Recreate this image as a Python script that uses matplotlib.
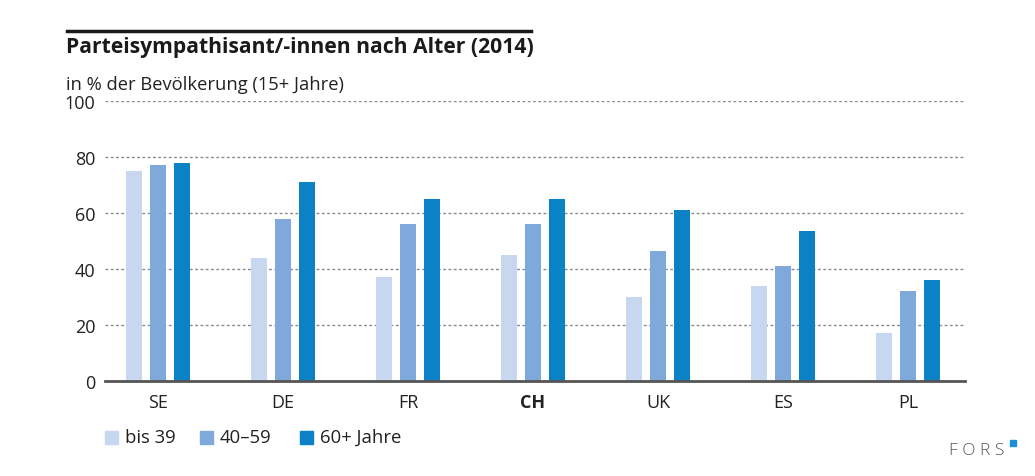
import matplotlib.pyplot as plt
import numpy as np
from matplotlib.lines import Line2D
from matplotlib.patches import Rectangle

plt.rcParams["font.family"] = ["Open Sans", "DejaVu Sans"]

countries = ["SE", "DE", "FR", "CH", "UK", "ES", "PL"]
groups = ["bis 39", "40\u201359", "60+ Jahre"]
bis39 = [75, 44, 37, 45, 30, 34, 17]
mid4059 = [77, 58, 56, 56, 46.5, 41, 32]
plus60 = [78, 71, 65, 65, 61, 53.5, 36]
colors = ["#C8D7F0", "#7FA8DB", "#0C82C6"]

W, H = 1035, 477
fig = plt.figure(figsize=(W / 100, H / 100), dpi=100)
ax = fig.add_axes([105 / W, (H - 382) / H, 860 / W, 280 / H])

x = np.arange(len(countries))
width = 0.128
step = 0.192
for i, (vals, c) in enumerate(zip([bis39, mid4059, plus60], colors)):
    ax.bar(x + (i - 1) * step, vals, width, color=c, zorder=3)

ax.set_xlim(-0.424, 6.456)
ax.set_ylim(0, 100)
ax.set_yticks([0, 20, 40, 60, 80, 100])
ax.yaxis.grid(True, color="#8a8a8a", linestyle=(0, (2.0, 1.8)), linewidth=1.0, zorder=0)
for s in ["top", "right", "left"]:
    ax.spines[s].set_visible(False)
ax.spines["bottom"].set_color("#555555")
ax.spines["bottom"].set_linewidth(2)
ax.spines["bottom"].set_zorder(4)
ax.tick_params(axis="both", length=0, labelsize=13, colors="#222222")
ax.tick_params(axis="y", pad=7)
ax.tick_params(axis="x", pad=9)
ax.set_xticks(x)
ax.set_xticklabels(countries)
for lbl in ax.get_xticklabels():
    if lbl.get_text() == "CH":
        lbl.set_fontweight("bold")

# title block
fig.add_artist(Line2D([67 / W, 531 / W], [1 - 32 / H, 1 - 32 / H], color="#1a1a1a", linewidth=2.5))
fig.text(66 / W, 1 - 48 / H, "Parteisympathisant/-innen nach Alter (2014)",
         fontsize=15.2, fontweight="bold", color="#1a1a1a", va="center")
fig.text(66 / W, 1 - 85 / H, "in % der Bevölkerung (15+ Jahre)",
         fontsize=13.2, color="#222222", va="center")

# legend
lx = [105, 200, 300]
for px, g, c in zip(lx, groups, colors):
    fig.add_artist(Rectangle((px / W, 1 - 445 / H), 13 / W, 13 / H, color=c,
                             transform=fig.transFigure))
    fig.text((px + 20) / W, 1 - 438 / H, g, fontsize=13.3, color="#222222", va="center")

# logo
fig.text(1004 / W, 1 - 451 / H, "F O R S", fontsize=12.5, color="#555555", ha="right",
         va="center", fontweight="light")
fig.add_artist(Rectangle((1010 / W, 1 - 447 / H), 6 / W, 6 / H, color="#1a8fd6",
                         transform=fig.transFigure))

fig.savefig("out.png", dpi=100)
